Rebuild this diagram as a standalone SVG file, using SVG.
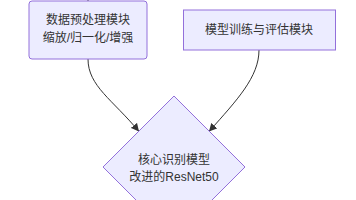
<svg xmlns="http://www.w3.org/2000/svg" width="356" height="200" viewBox="0 0 356 200">
<style>
.node{fill:#ECECFF;stroke:#9370DB;stroke-width:1}
.lbl{font-family:"Liberation Sans","Noto Sans CJK SC",sans-serif;font-size:12px;fill:#333;text-anchor:middle;dominant-baseline:central}
.edge{fill:none;stroke:#333;stroke-width:1}
</style>
<defs>
<marker id="arrow" viewBox="0 0 10 10" refX="9" refY="5" markerWidth="8" markerHeight="8" markerUnits="userSpaceOnUse" orient="auto">
<path d="M0,0 L10,5 L0,10 z" fill="#333"/>
</marker>
</defs>
<rect width="356" height="200" fill="#ffffff"/>
<g id="connectors">
<path class="edge" d="M88,0 L88,1"/>
<path class="edge" d="M88,59 C88,86 113,100 138.5,131" marker-end="url(#arrow)"/>
<path class="edge" d="M259,50 C259,77 237,100 209.5,131" marker-end="url(#arrow)"/>
</g>
<g id="preprocess">
<rect class="node" x="29" y="1" width="118" height="58" rx="3"/>
<text class="lbl" x="88" y="20">数据预处理模块</text>
<text class="lbl" x="88" y="38">缩放/归一化/增强</text>
</g>
<g id="training">
<rect class="node" x="183.5" y="10" width="152" height="40"/>
<text class="lbl" x="259" y="30">模型训练与评估模块</text>
</g>
<g id="core">
<polygon class="node" points="174,96 245,167 174,238 103,167"/>
<text class="lbl" x="174" y="160">核心识别模型</text>
<text class="lbl" x="174" y="177">改进的ResNet50</text>
</g>
</svg>
